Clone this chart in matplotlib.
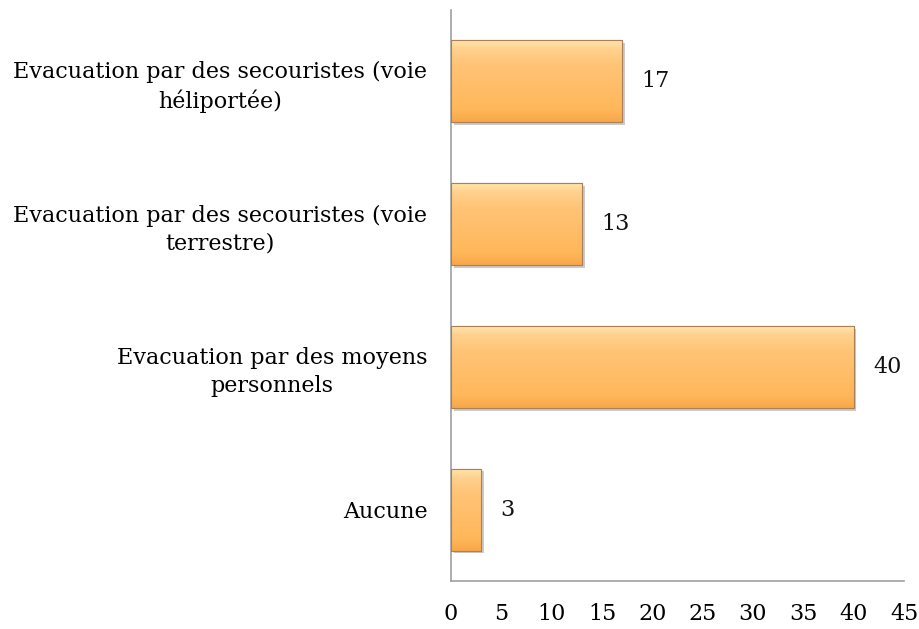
import matplotlib.pyplot as plt
import matplotlib.patheffects as pe
import numpy as np
from matplotlib.colors import LinearSegmentedColormap

categories = [
    "Aucune",
    "Evacuation par des moyens\npersonnels",
    "Evacuation par des secouristes (voie\nterrestre)",
    "Evacuation par des secouristes (voie\nhéliportée)",
]
values = [3, 40, 13, 17]
xticks = [0, 5, 10, 15, 20, 25, 30, 35, 40, 45]

plt.rcParams['font.family'] = ['DejaVu Serif']

fig = plt.figure(figsize=(9.19, 6.29), dpi=100)
ax = fig.add_axes([0.4907, 0.0763, 0.493, 0.9077])

y = np.arange(len(categories))
bars = ax.barh(y, values, height=0.575, color='#ffbc66', edgecolor='#a98058',
               linewidth=0.8, zorder=2)

# soft drop shadow under each bar
for b in bars:
    b.set_path_effects([pe.SimplePatchShadow(offset=(2, -2), shadow_rgbFace='#999999', alpha=0.5),
                        pe.Normal()])

# vertical orange gradient with a light top bevel
grad = LinearSegmentedColormap.from_list(
    'bar', [(0.0, '#ffe7b0'), (0.12, '#ffd18e'), (0.3, '#ffc477'),
            (0.85, '#ffb75a'), (1.0, '#f7a848')])
g = np.linspace(0, 1, 256).reshape(-1, 1)
for b in bars:
    x0, y0 = b.get_x(), b.get_y()
    w, h = b.get_width(), b.get_height()
    im = ax.imshow(g, cmap=grad, aspect='auto', extent=[x0, x0 + w, y0, y0 + h],
                   origin='upper', zorder=2.5, interpolation='bicubic')
    im.set_clip_path(b)
    ax.add_patch(plt.Rectangle((x0, y0), w, h, fill=False, edgecolor='#a98058',
                               linewidth=0.8, zorder=3))

for yi, v in zip(y, values):
    ax.annotate(str(v), (v, yi), xytext=(14, 0), textcoords='offset points',
                ha='left', va='center', fontsize=16, color='#111111')

ax.set_xlim(0, 45)
ax.set_ylim(-0.5, 3.5)
ax.set_xticks(xticks)
ax.set_xticklabels([str(t) for t in xticks])
ax.set_yticks(y)
ax.set_yticklabels(categories, fontsize=16, ha='right', multialignment='center',
                   linespacing=1.35)
ax.tick_params(axis='y', length=0, pad=17)
ax.tick_params(axis='x', length=0, pad=16, labelsize=16)
for s in ['top', 'right']:
    ax.spines[s].set_visible(False)
for s in ['left', 'bottom']:
    ax.spines[s].set_color('#a0a0a0')
    ax.spines[s].set_linewidth(1.2)

fig.savefig('out.png', dpi=100)
